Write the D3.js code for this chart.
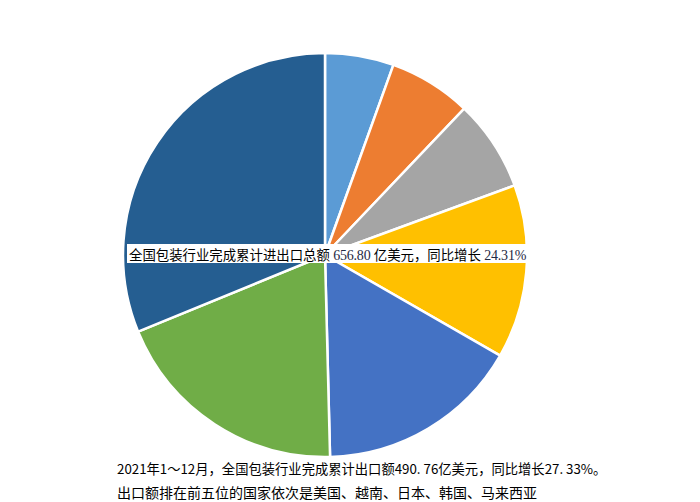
<!DOCTYPE html>
<html><head><meta charset="utf-8">
<script src="https://cdn.jsdelivr.net/npm/d3@7"></script>
<style>body{margin:0;background:#fff}svg{display:block}</style>
</head><body>
<svg id="c" width="700" height="502"></svg>
<script>
const categories = ["A","B","C","D","E","F","G"];
const values = [5.5, 6.6, 7.3, 13.9, 16.3, 19.2, 31.2];
const colors = ["#5b9bd5","#ed7d31","#a5a5a5","#ffc000","#4472c4","#70ad47","#255e91"];
const titleParts = [["全国包装行业完成累计进出口总额","cjk"],[" 656.80 ","num"],["亿美元，同比增长","cjk"],[" 24.31%","num"]];
const note1 = "2021年1～12月，全国包装行业完成累计出口额490. 76亿美元，同比增长27. 33%。";
const note2 = "出口额排在前五位的国家依次是美国、越南、日本、韩国、马来西亚";

const svg = d3.select("#c");
const cx = 325, cy = 255, r = 202;
const pie = d3.pie().sort(null).value(d => d)(values);
const arc = d3.arc().innerRadius(0).outerRadius(r);
svg.append("g").attr("transform", `translate(${cx},${cy})`)
  .selectAll("path").data(pie).join("path")
  .attr("d", arc).attr("fill", (d,i) => colors[i])
  .attr("stroke", "#fff").attr("stroke-width", 2.5).attr("stroke-linejoin","round");

const box = svg.append("rect").attr("x",127).attr("y",244).attr("height",19).attr("fill","#fff");
const t = svg.append("text").attr("x",129).attr("y",260);
titleParts.forEach(([s,k]) => {
  t.append("tspan").text(s)
   .attr("font-family", k==="cjk" ? "'Noto Sans CJK SC', sans-serif" : "'Liberation Serif', 'DejaVu Serif', serif")
   .attr("font-size", k==="cjk" ? 13.4 : 14)
   .attr("letter-spacing", k==="cjk" ? 0 : -0.2)
   .attr("fill", k==="cjk" ? "#000" : "#1f2a44");
});
const tw = t.node().getComputedTextLength();
box.attr("width", tw + 4);

svg.append("text").attr("x",117).attr("y",474).text(note1)
  .attr("font-family","'Noto Sans CJK SC', sans-serif").attr("font-size",13.3).attr("fill","#000");
svg.append("text").attr("x",117).attr("y",498).text(note2)
  .attr("font-family","'Noto Sans CJK SC', sans-serif").attr("font-size",14).attr("fill","#000");
</script>
</body></html>
